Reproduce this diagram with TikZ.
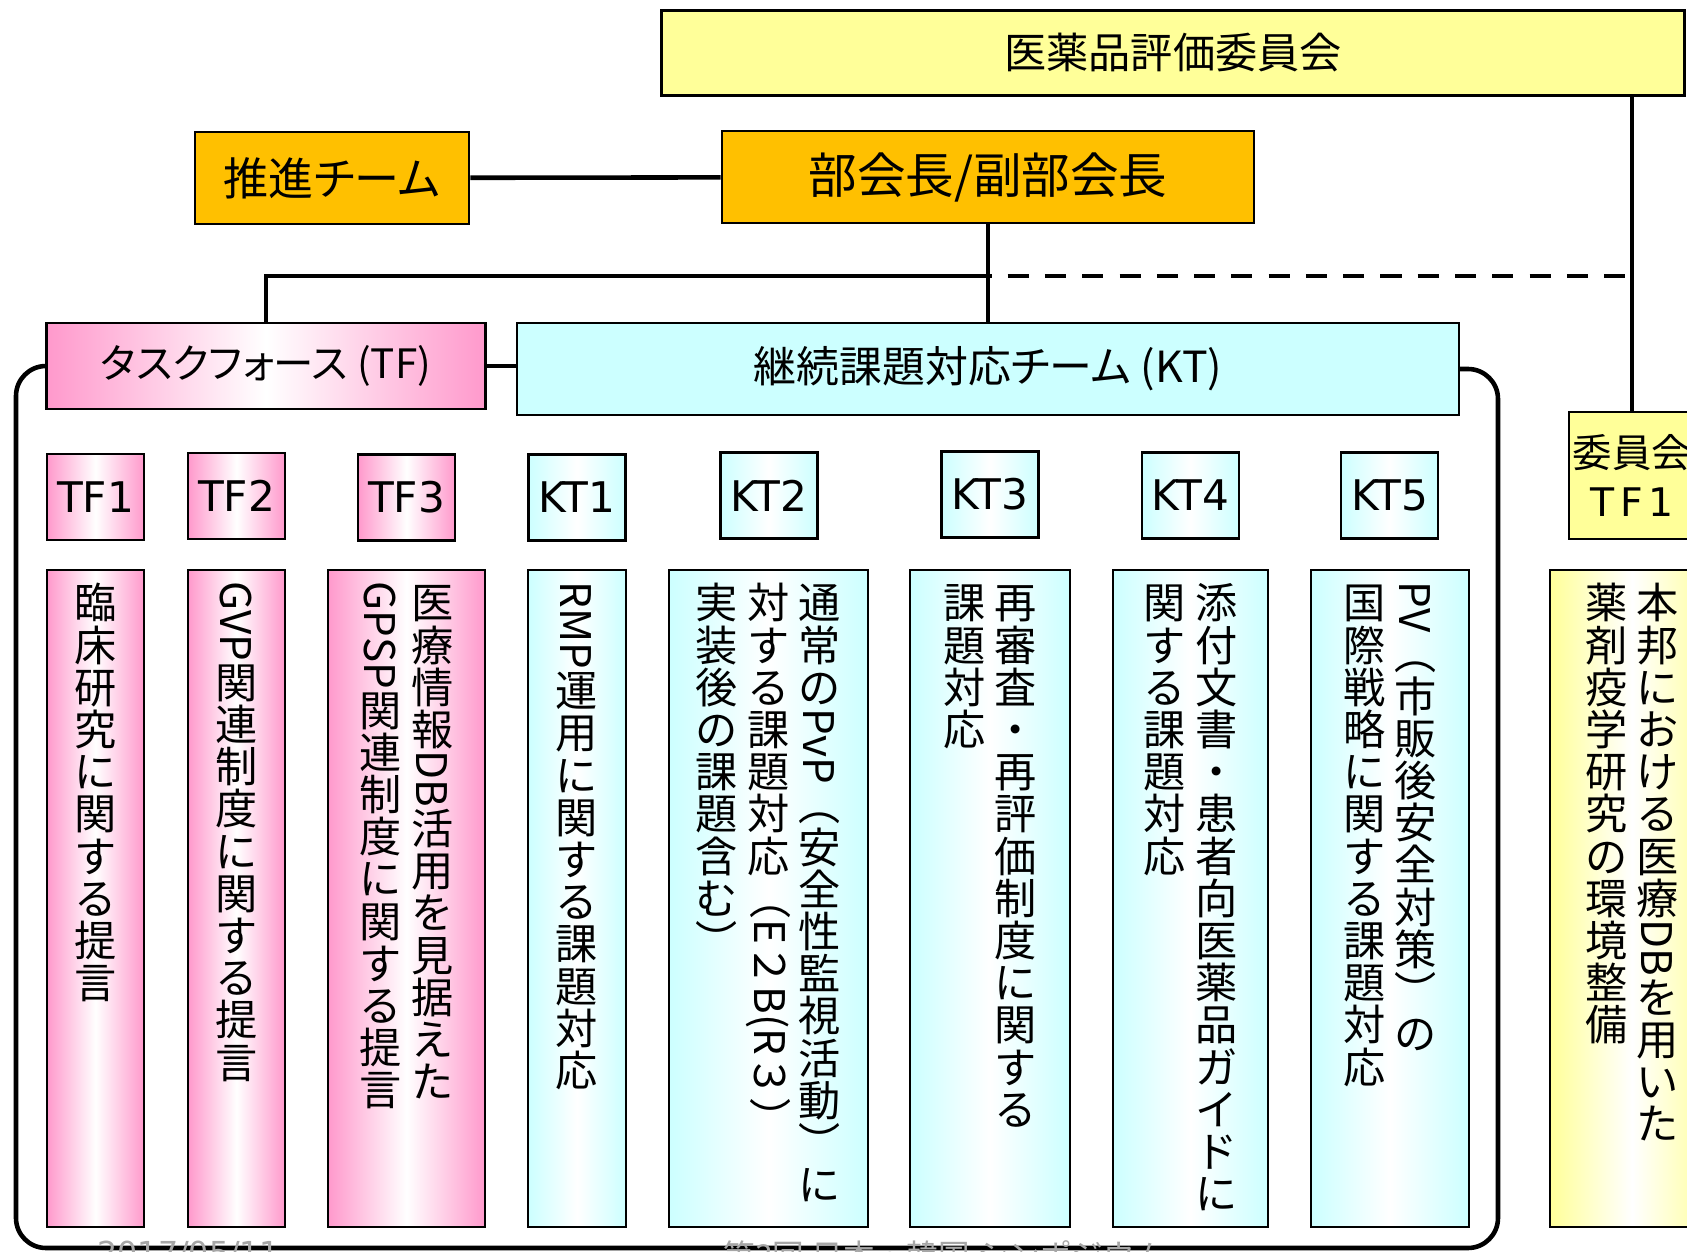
\documentclass[tikz,border=0pt]{standalone}
\usepackage{fontspec}
\setmainfont{Noto Sans CJK JP}
\newfontfamily\jpprop[RawFeature=+palt]{Noto Sans CJK JP}
\newfontfamily\labfont{DejaVu Sans}
\usepackage{graphicx}

\definecolor{boxorange}{HTML}{FFC000}
\definecolor{boxyellow}{HTML}{FFFF99}
\definecolor{boxpink}{HTML}{FF99CC}
\definecolor{boxcyan}{HTML}{CCFFFF}
\definecolor{footgray}{HTML}{A6A6A6}

% vertical writing: one glyph per cell, latin runs turned
\newlength\tatecell
\makeatletter
\def\tate@end{}
\def\tate@endmark{\tate@end}
\newcommand\tate[1]{\vtop{\offinterlineskip\tatecell=1em\hrule height0pt width0pt\relax\tate@loop#1\tate@end}}
\def\tate@loop#1{\def\tate@arg{#1}\ifx\tate@arg\tate@endmark\else\tate@put{#1}\expandafter\tate@loop\fi}
\def\tate@put#1{\hbox to\tatecell{\hss\vrule height.88em depth.12em width0pt\relax#1\hss}}
\makeatother
\newcommand\yoko[1]{\raisebox{.88em}{\rotatebox{-90}{\vrule height.88em depth.12em width0pt\relax#1}}}
\newcommand\longtext[1]{\vbox to 6.57cm{\vskip.12cm\hbox{#1}\vss}}
\newcommand\colgap{\hspace{.22em}}

\begin{document}
\begin{tikzpicture}[x=0.01cm,y=-0.01cm,
  box/.style={draw,line width=0.7pt,inner sep=0pt,align=center},
  orangebox/.style={box,fill=boxorange,minimum height=0.92cm},
  pinkshade/.style={left color=boxpink,right color=boxpink,middle color=white},
  cyanshade/.style={left color=boxcyan,right color=boxcyan,middle color=white},
  yellowshade/.style={left color=boxyellow,right color=boxyellow,middle color=white},
  label/.style={box,minimum width=0.97cm,minimum height=0.86cm,font=\labfont\fontsize{12pt}{14pt}\selectfont},
  tflabel/.style={label,pinkshade},
  ktlabel/.style={label,cyanshade},
  longbox/.style={box,minimum height=6.57cm,font=\fontsize{12pt}{12pt}\selectfont},
  link/.style={line width=1.3pt},
  footer/.style={inner sep=0pt,text=footgray,anchor=north west}]
\useasboundingbox (0,0) rectangle (1687,1252);

%\draw[step=100,gray,very thin] (0,0) grid (1687,1252);
\node[box,fill=boxyellow,minimum width=10.22cm,minimum height=0.85cm,font=\fontsize{12pt}{14pt}\selectfont] (comm) at (1173,53) {医薬品評価委員会};
\node[orangebox,minimum width=2.74cm,font=\jpprop\fontsize{12.8pt}{16pt}\selectfont] (push) at (332,178) {推進チーム};
\node[orangebox,minimum width=5.32cm,font=\fontsize{13.8pt}{16pt}\selectfont] (head) at (988,177) {部会長/副部会長};
\node[box,pinkshade,minimum width=4.39cm,minimum height=0.86cm,font=\jpprop\fontsize{11.5pt}{14pt}\selectfont] (tf) at (266,366) {タスクフォース (TF)};
\node[box,fill=boxcyan,minimum width=9.41cm,minimum height=0.92cm,font=\jpprop\fontsize{12.2pt}{14pt}\selectfont] (kt) at (988,369) {継続課題対応チーム (KT)};
\node[box,fill=boxyellow,minimum width=1.26cm,minimum height=1.27cm,font=\fontsize{11.2pt}{14pt}\selectfont] (y1) at (1632,475.5) {委員会\\{\labfont T\hspace{.15em}F\hspace{.15em}1}};

\foreach \n/\x/\y in {1/95.5/497,2/236.5/496,3/406.5/497.5}
  \node[tflabel] (tf\n) at (\x,\y) {TF\n};
\foreach \n/\x/\y in {1/577/497.5,2/769/495.5,3/990/494.5,4/1190.5/495.5,5/1389.5/495.5}
  \node[ktlabel] (kt\n) at (\x,\y) {KT\n};

\node[longbox,pinkshade,minimum width=0.97cm] (tf1long) at (95.5,898.5) {\longtext{\tate{臨床研究に関する提言}}};
\node[longbox,pinkshade,minimum width=0.97cm] (tf2long) at (236.5,898.5) {\longtext{\tate{{\yoko{GVP}}関連制度に関する提言}}};
\node[longbox,pinkshade,minimum width=1.57cm] (tf3long) at (406.5,898.5) {\longtext{\tate{{\yoko{GPSP}}関連制度に関する提言}\colgap\tate{医療情報{\yoko{DB}}活用を見据えた}}};
\node[longbox,cyanshade,minimum width=0.98cm] (kt1long) at (577,898.5) {\longtext{\tate{{\yoko{RMP}}運用に関する課題対応}}};
\node[longbox,cyanshade,minimum width=1.99cm] (kt2long) at (768.5,898.5) {\longtext{\tate{実装後の課題含む{\yoko{）}}}\colgap\tate{対する課題対応{\yoko{（E２B(R３）}}}\colgap\tate{通常の{\yoko{PvP}}{\yoko{（}}安全性監視活動{\yoko{）}}に}}};
\node[longbox,cyanshade,minimum width=1.60cm] (kt3long) at (990,898.5) {\longtext{\tate{課題対応}\colgap\tate{再審査・再評価制度に関する}}};
\node[longbox,cyanshade,minimum width=1.55cm] (kt4long) at (1190.5,898.5) {\longtext{\tate{関する課題対応}\colgap\tate{添付文書・患者向医薬品ガイドに}}};
\node[longbox,cyanshade,minimum width=1.58cm] (kt5long) at (1390,898.5) {\longtext{\tate{国際戦略に関する課題対応}\colgap\tate{{\yoko{PV}}{\yoko{（}}市販後安全対策{\yoko{）}}の}}};
\node[longbox,yellowshade,minimum width=1.64cm] (y1long) at (1632,898.5) {\longtext{\tate{薬剤疫学研究の環境整備}\colgap\tate{本邦における医療{\yoko{DB}}を用いた}}};

\coordinate (jn) at (988,276);
\draw[link] (push) -- (head);
\draw[link] (head) -- (kt);
\draw[link] (tf.north) |- (jn);
\draw[link,dash pattern=on 6pt off 4.6pt,dash phase=5pt] (jn) -- (jn -| y1.north);
\draw[link] (y1.north) -- (y1.north |- comm.south);
\draw[link] (tf.east) -- (tf.east -| kt.west);
\draw[link,rounded corners=0.3cm] (tf.west) -| (16,1248) -| (1498,369) -- (kt.east);

\node[footer,font=\labfont\fontsize{9pt}{10pt}\selectfont] (date) at (97,1240) {2017/05/11};
\node[footer,font=\fontsize{9pt}{10pt}\selectfont] (event) at (723,1240) {第3回 日本・韓国 シンポジウム};
\end{tikzpicture}
\end{document}
